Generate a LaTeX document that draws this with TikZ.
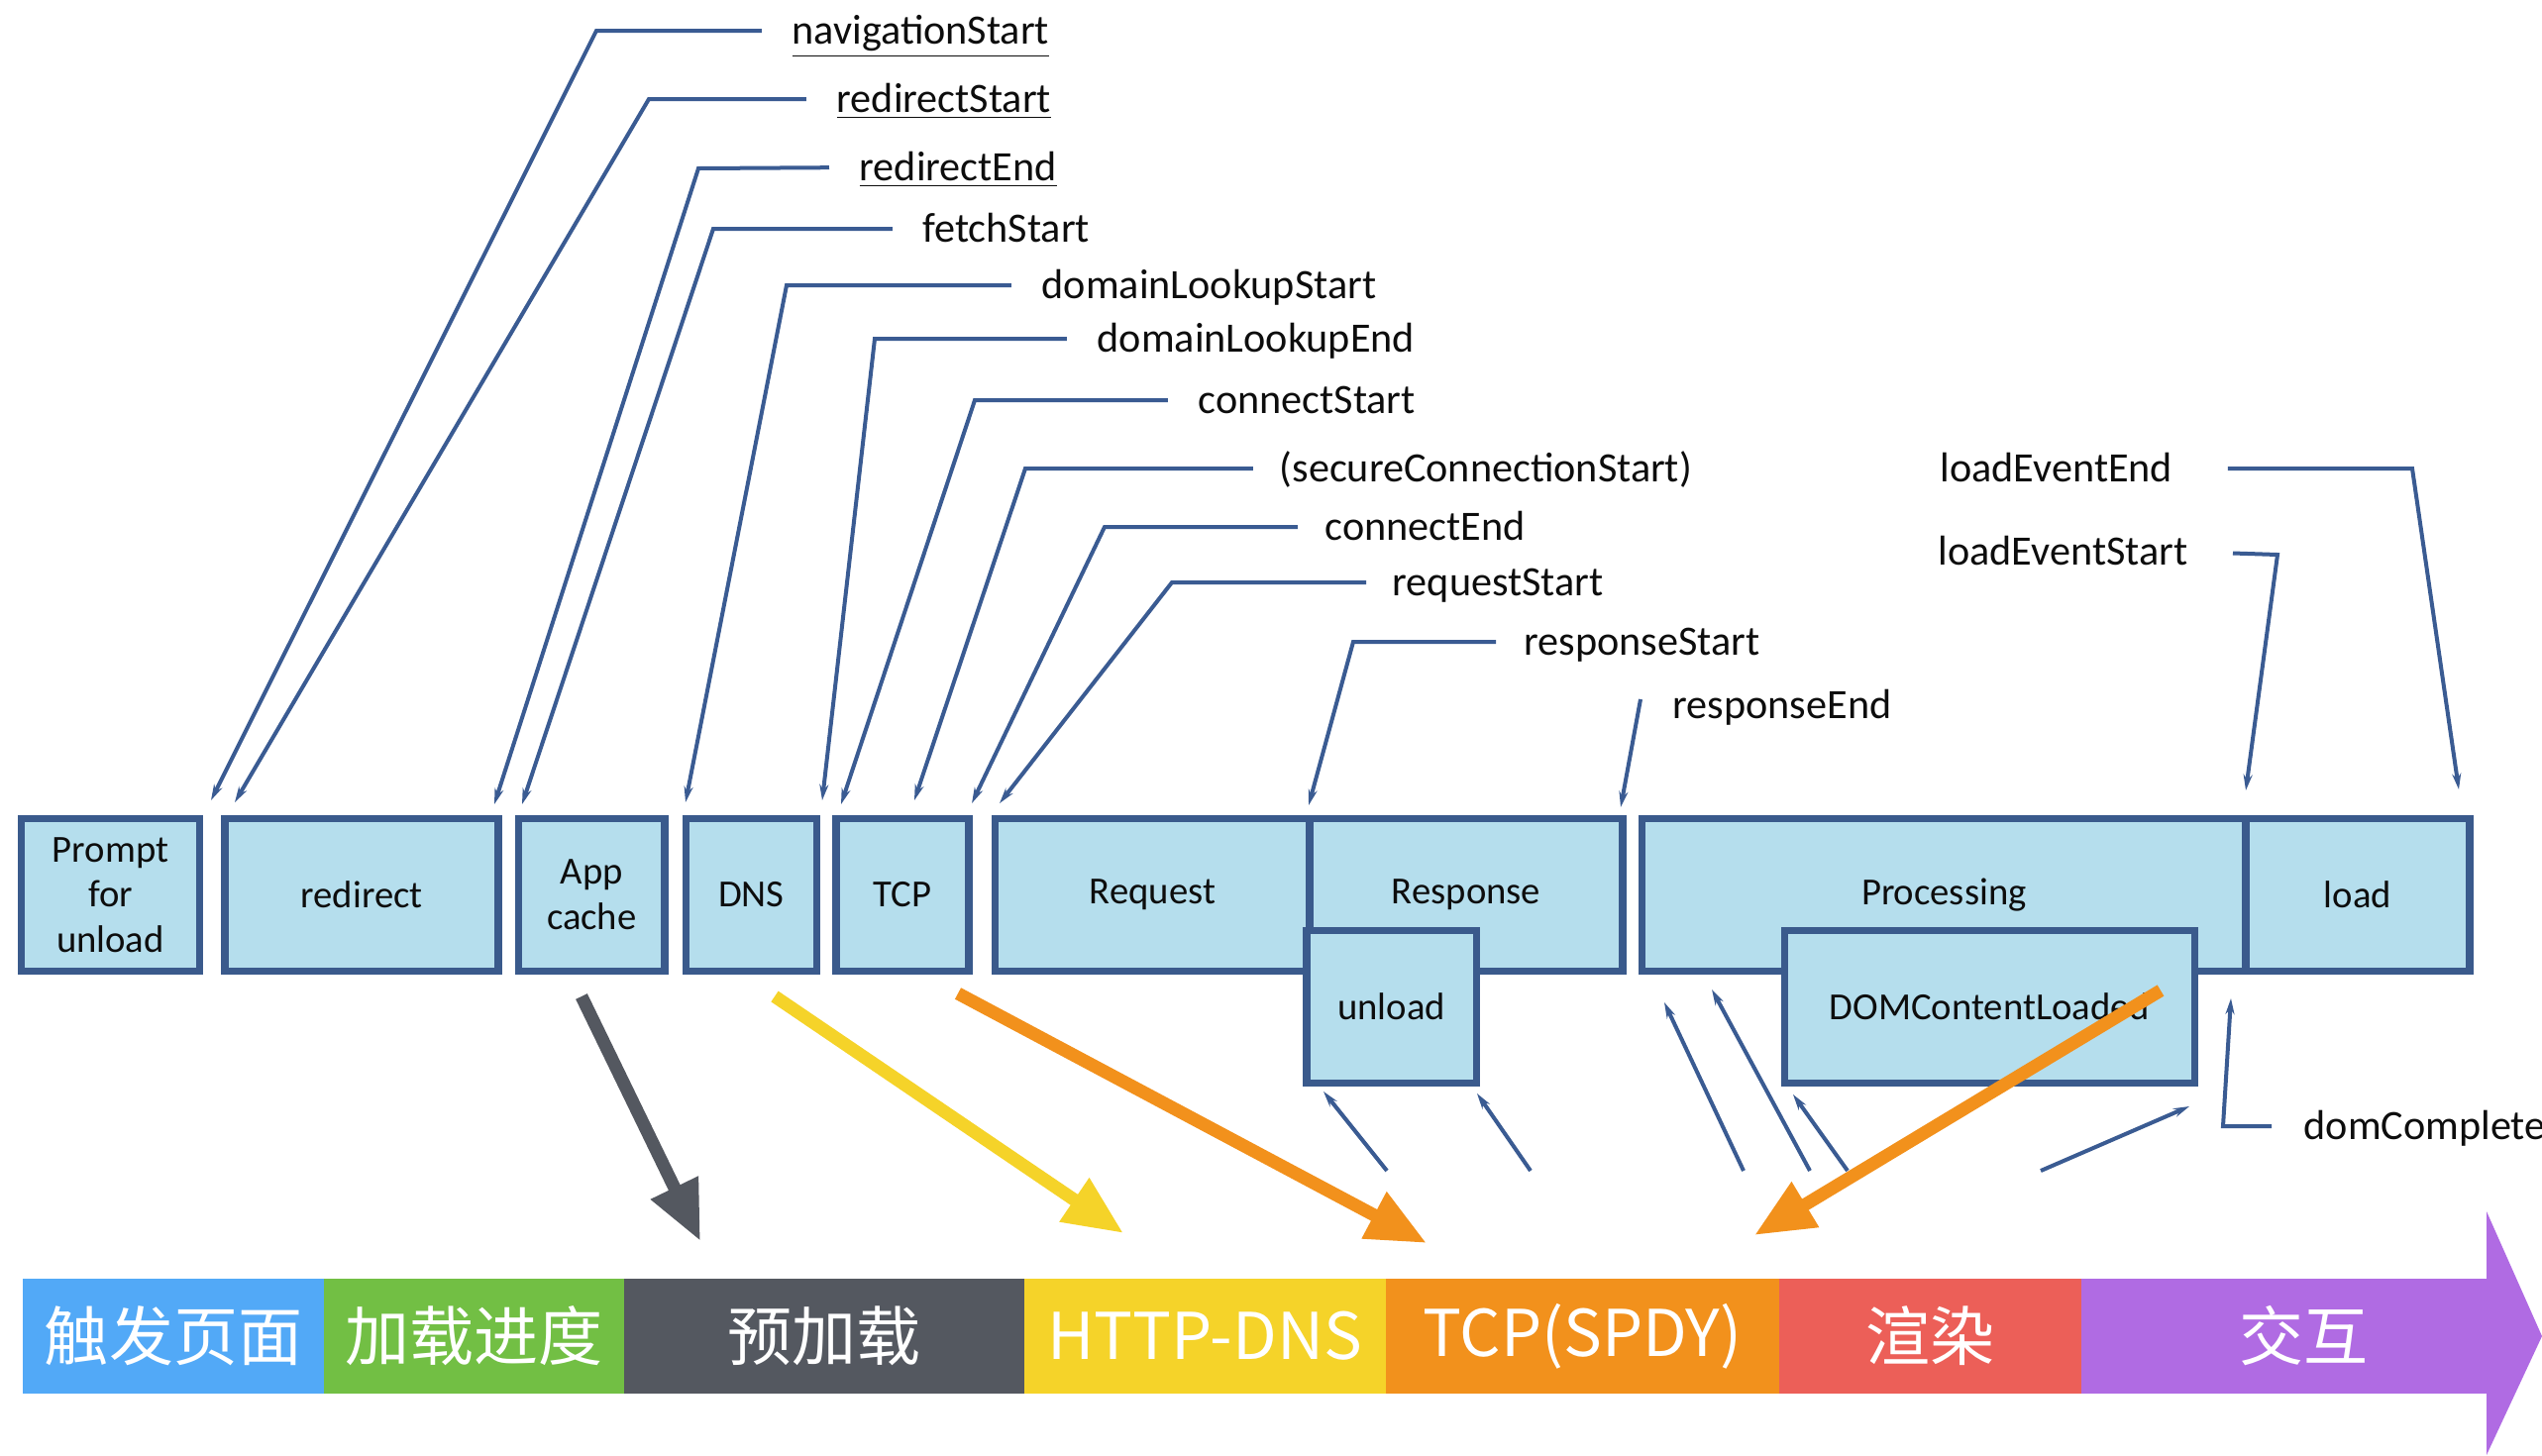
\documentclass[tikz,border=0pt]{standalone}
\usepackage{fontspec}
\setmainfont{Carlito}
\newfontfamily\cjk{Noto Sans CJK SC}
\usetikzlibrary{positioning,arrows.meta}

\definecolor{boxfill}{HTML}{B5DEED}
\definecolor{boxline}{HTML}{3A5A8C}
\definecolor{leadcol}{HTML}{3A5B92}
\definecolor{txt}{HTML}{0D0D0D}
\definecolor{segblue}{HTML}{52A9F7}
\definecolor{seggreen}{HTML}{72BF44}
\definecolor{seggray}{HTML}{545860}
\definecolor{segyellow}{HTML}{F5D329}
\definecolor{segorange}{HTML}{F2911C}
\definecolor{segred}{HTML}{EC5F58}
\definecolor{segpurple}{HTML}{B06BE3}

\tikzset{
	phase/.style={draw=boxline, fill=boxfill, line width=0.075cm, minimum height=1.54cm,
		inner sep=0pt, align=center, text=txt, font=\fontsize{11}{13}\selectfont},
	lbl/.style={anchor=west, inner sep=0pt, text height=7.7pt, text depth=0pt,
		text=txt, font=\fontsize{12}{14}\selectfont},
	lead/.style={draw=leadcol, line width=0.04cm, -{Stealth[length=0.16cm, width=0.09cm]}},
	seg/.style={minimum height=1.16cm, inner sep=0pt, outer sep=0pt, text=white,
		font=\cjk\fontsize{18.5}{20}\selectfont},
	jump/.style={line width=0.13cm, -{Triangle[length=0.6cm, width=0.5cm]}}
}

\begin{document}
\begin{tikzpicture}[x=0.01cm, y=-0.01cm, node distance=0.15cm]

	\useasboundingbox (0,0) rectangle (2566,1469);

	%% Phases
	\node[phase, minimum width=1.80cm] (prompt) at (111.5,903.5) {Prompt\\for\\unload};
	\node[phase, minimum width=2.76cm] (redirect) [right =0.18cm of prompt] {redirect};
	\node[phase, minimum width=1.47cm] (appcache) [right =0.13cm of redirect] {App\\cache};
	\node[phase, minimum width=1.32cm] (dns) [right =0.14cm of appcache] {DNS};
	\node[phase, minimum width=1.34cm] (tcp) [right =0.12cm of dns] {TCP};
	\node[phase, minimum width=3.175cm] (request) [right =0.19cm of tcp] {Request};
	\node[phase, minimum width=3.155cm] (response) [right =-0.075cm of request] {Response};
	\node[phase, minimum width=1.715cm] (unload) at (1404.75,1016.5) {unload};

	\node[phase, minimum width=6.095cm] (processing) at (1962.25,903.5) {Processing};
	\node[phase, minimum width=2.255cm] (load) [right =-0.075cm of processing] {load};
	\node[phase, minimum width=4.14cm] (domcl) at (2008.5,1016.5) {DOMContentLoaded};

	%% Timing labels
	\node[lbl] (nav_l) at (799,31) {\underline{navigationStart}};
	\node[lbl] (rs_l) at (844,100) {\underline{redirectStart}};
	\node[lbl] (rdend_l) at (867,169) {\underline{redirectEnd}};
	\node[lbl] (fs_l) at (931,231) {fetchStart};
	\node[lbl] (dls_l) at (1051,288) {domainLookupStart};
	\node[lbl] (dle_l) at (1107,342) {domainLookupEnd};
	\node[lbl] (cs_l) at (1209,404) {connectStart};
	\node[lbl] (scs_l) at (1291,473) {(secureConnectionStart)};
	\node[lbl] (ce_l) at (1337,532) {connectEnd};
	\node[lbl] (rqs_l) at (1405,588) {requestStart};
	\node[lbl] (rps_l) at (1538,648) {responseStart};
	\node[lbl] (rpe_l) at (1688,712) {responseEnd};
	\node[lbl] (lee_l) at (1958,473) {loadEventEnd};
	\node[lbl] (les_l) at (1956,557) {loadEventStart};
	\node[lbl] (dc_l) at (2325,1137) {domComplete};

	%% Bends and tips
	\coordinate (nav_c) at (602,31);    \coordinate (nav_t) at (213,808);
	\coordinate (rs_c) at (655,100);    \coordinate (rs_t) at (237,810);
	\coordinate (rdend_c) at (705,170); \coordinate (rdend_t) at (499,812);
	\coordinate (fs_c) at (720,231);    \coordinate (fs_t) at (527,812);
	\coordinate (dls_c) at (794,288);   \coordinate (dls_t) at (692,810);
	\coordinate (dle_c) at (883,342);   \coordinate (dle_t) at (830,808);
	\coordinate (cs_c) at (984,404);    \coordinate (cs_t) at (849,812);
	\coordinate (scs_c) at (1035,473);  \coordinate (scs_t) at (923,808);
	\coordinate (ce_c) at (1115,532);   \coordinate (ce_t) at (981,811);
	\coordinate (rqs_c) at (1183,588);  \coordinate (rqs_t) at (1009,811);
	\coordinate (rps_c) at (1366,648);  \coordinate (rps_t) at (1321,813);
	\coordinate (rpe_s) at (1656,706);  \coordinate (rpe_t) at (1636,815);
	\coordinate (lee_c) at (2435,473);  \coordinate (lee_t) at (2482,797);
	\coordinate (les_c) at (2299,560);  \coordinate (les_t) at (2267,798);
	\coordinate (dc_c) at (2244,1137);  \coordinate (dc_t) at (2252,1008);

	\draw[lead, shorten <=0.3cm] (nav_l.west) -- (nav_c) -- (nav_t);
	\draw[lead, shorten <=0.3cm] (rs_l.west) -- (rs_c) -- (rs_t);
	\draw[lead, shorten <=0.3cm] (rdend_l.west) -- (rdend_c) -- (rdend_t);
	\draw[lead, shorten <=0.3cm] (fs_l.west) -- (fs_c) -- (fs_t);
	\draw[lead, shorten <=0.3cm] (dls_l.west) -- (dls_c) -- (dls_t);
	\draw[lead, shorten <=0.3cm] (dle_l.west) -- (dle_c) -- (dle_t);
	\draw[lead, shorten <=0.3cm] (cs_l.west) -- (cs_c) -- (cs_t);
	\draw[lead, shorten <=0.26cm] (scs_l.west) -- (scs_c) -- (scs_t);
	\draw[lead, shorten <=0.27cm] (ce_l.west) -- (ce_c) -- (ce_t);
	\draw[lead, shorten <=0.26cm] (rqs_l.west) -- (rqs_c) -- (rqs_t);
	\draw[lead, shorten <=0.28cm] (rps_l.west) -- (rps_c) -- (rps_t);
	\draw[lead] (rpe_s) -- (rpe_t);
	\draw[lead, shorten <=0.55cm] (lee_l.east) -- (lee_c) -- (lee_t);
	\draw[lead, shorten <=0.45cm] (les_l.east) -- (les_c) -- (les_t);
	\draw[lead, shorten <=0.32cm] (dc_l.west) -- (dc_c) -- (dc_t);

	%% Events from below
	\coordinate (ua_s) at (1400,1182); \coordinate (ua_t) at (1336,1102);
	\coordinate (ub_s) at (1545,1182); \coordinate (ub_t) at (1491,1104);
	\coordinate (pa_s) at (1760,1182); \coordinate (pa_t) at (1680,1012);
	\coordinate (pb_s) at (1827,1182); \coordinate (pb_t) at (1728,999);
	\coordinate (pc_s) at (1865,1182); \coordinate (pc_t) at (1810,1105);
	\coordinate (pd_s) at (2060,1182); \coordinate (pd_t) at (2210,1117);
	\draw[lead] (ua_s) -- (ua_t);
	\draw[lead] (ub_s) -- (ub_t);
	\draw[lead] (pa_s) -- (pa_t);
	\draw[lead] (pb_s) -- (pb_t);
	\draw[lead] (pc_s) -- (pc_t);
	\draw[lead] (pd_s) -- (pd_t);

	%% Stage band
	\node[seg, fill=segblue, minimum width=3.04cm, anchor=west] (s1) at (23,1349) {触发页面};
	\node[seg, fill=seggreen, minimum width=3.03cm] (s2) [right =0pt of s1] {加载进度};
	\node[seg, fill=seggray, minimum width=4.03cm] (s3) [right =0pt of s2] {预加载};
	\node[seg, fill=segyellow, minimum width=3.65cm] (s4) [right =0pt of s3] {HTTP-DNS};
	\node[seg, fill=segorange, minimum width=3.97cm] (s5) [right =0pt of s4] {TCP(SPDY)};
	\node[seg, fill=segred, minimum width=3.05cm] (s6) [right =0pt of s5] {渲染};
	\node[seg, fill=segpurple, minimum width=4.12cm] (s7) [right =0pt of s6] {\hspace{0.36cm}交互};
	\fill[segpurple] (2510,1223) -- (2566,1349) -- (2510,1469) -- cycle;

	%% Mapping arrows
	\coordinate (pre_a) at (587,1006);  \coordinate (pre_b) at (707,1253);
	\coordinate (hd_a) at (782,1006);   \coordinate (hd_b) at (1134,1245);
	\coordinate (tcp_a) at (967,1003);  \coordinate (tcp_b) at (1440,1255);
	\coordinate (dom_a) at (2181,1000); \coordinate (dom_b) at (1771,1247);
	\draw[jump, seggray] (pre_a) -- (pre_b);
	\draw[jump, segyellow] (hd_a) -- (hd_b);
	\draw[jump, segorange] (tcp_a) -- (tcp_b);
	\draw[jump, segorange] (dom_a) -- (dom_b);

\end{tikzpicture}
\end{document}
